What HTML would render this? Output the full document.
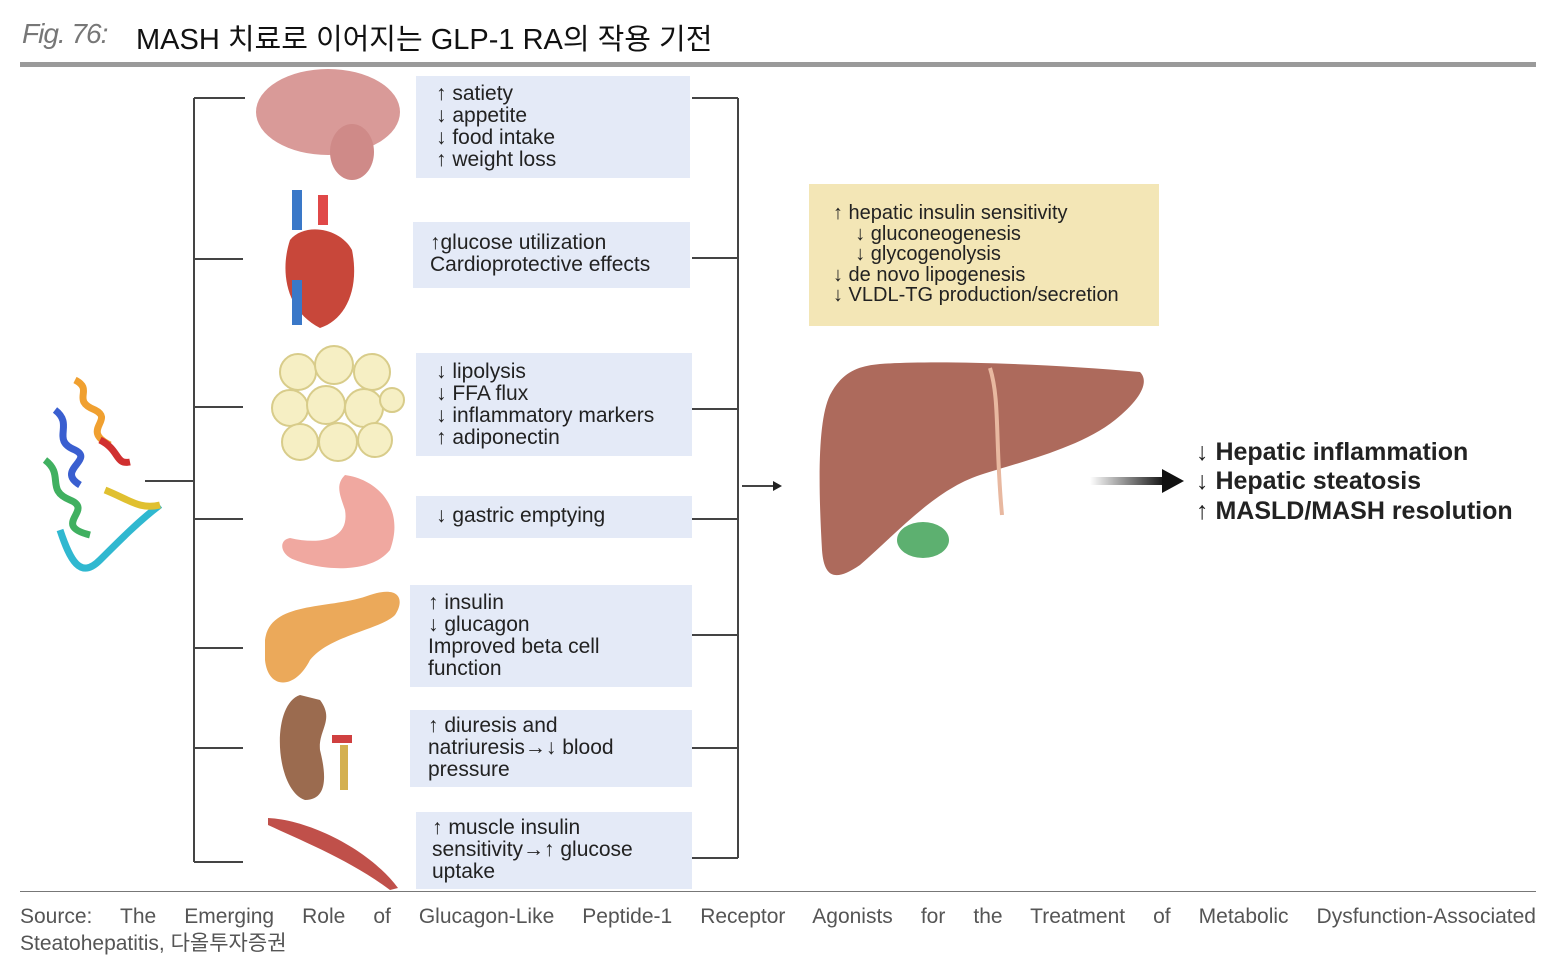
<!DOCTYPE html>
<html><head><meta charset="utf-8"><style>
body{margin:0;width:1556px;height:969px;background:#fff;position:relative;overflow:hidden;font-family:"Liberation Sans","Noto Sans CJK KR",sans-serif}
.a{position:absolute}
.box{position:absolute;background:#e4eaf7;color:#222;font-size:21px;line-height:22px;box-sizing:border-box}
.out{position:absolute;left:1196px;font-weight:bold;font-size:25px;color:#222}
</style></head><body>
<div class="a" style="left:22px;top:18px;font-size:28px;font-style:italic;color:#777;letter-spacing:-1px">Fig. 76:</div>
<div class="a" style="left:136px;top:16px;font-size:29px;color:#111">MASH 치료로 이어지는 GLP-1 RA의 작용 기전</div>
<div class="a" style="left:20px;top:62px;width:1516px;height:5px;background:#9a9a9a"></div>
<div class="a" style="left:20px;top:891px;width:1516px;height:1px;background:#777"></div>
<div class="a" style="left:20px;top:903px;width:1516px;font-size:21px;color:#555;line-height:27px;text-align:justify;text-align-last:justify">Source: The Emerging Role of Glucagon-Like Peptide-1 Receptor Agonists for the Treatment of Metabolic Dysfunction-Associated</div>
<div class="a" style="left:20px;top:930px;font-size:21px;color:#555;line-height:27px">Steatohepatitis, 다올투자증권</div>

<svg class="a" style="left:0;top:0" width="1556" height="969">
<g stroke="#444" stroke-width="2" fill="none">
<path d="M194 98V862M194 98H245M194 259H243M194 407H243M194 519H243M194 648H243M194 748H243M194 862H243M145 481H194"/>
<path d="M738 98V858M692 98H738M692 258H738M692 409H738M692 519H738M692 635H738M692 748H738M692 858H738M742 486H775"/>
</g>
<path d="M773 481L782 486L773 491Z" fill="#222"/>
<defs><linearGradient id="g" x1="0" x2="1"><stop offset="0" stop-color="#fff"/><stop offset="1" stop-color="#111"/></linearGradient></defs>
<rect x="1090" y="477" width="75" height="8" fill="url(#g)"/>
<path d="M1162 469L1184 481L1162 493Z" fill="#111"/>
<!-- liver -->
<ellipse cx="923" cy="540" rx="26" ry="18" fill="#5db070"/>
<path d="M880 364C940 360 1050 364 1140 372C1150 382 1140 400 1115 420C1080 448 1020 462 980 475C935 490 900 530 860 565C835 582 824 578 822 550C818 480 818 420 830 395C842 372 858 366 880 364Z" fill="#ad6a5c"/>
<path d="M990 368C1000 400 995 440 1002 515" stroke="#e8b8a0" stroke-width="4" fill="none"/>
<!-- brain -->
<ellipse cx="328" cy="112" rx="72" ry="43" fill="#d99a98"/>
<ellipse cx="352" cy="152" rx="22" ry="28" fill="#cf8a88"/>
<!-- heart -->
<path d="M290 240C280 270 285 310 320 328C345 320 360 290 352 250C340 228 305 222 290 240Z" fill="#c8473a"/>
<rect x="292" y="190" width="10" height="40" fill="#3a78c8"/><rect x="318" y="195" width="10" height="30" fill="#e04848"/>
<rect x="292" y="280" width="10" height="45" fill="#3a78c8"/>
<!-- fat -->
<g fill="#f6efc4" stroke="#d8cc8a" stroke-width="2">
<circle cx="298" cy="372" r="18"/><circle cx="334" cy="365" r="19"/><circle cx="372" cy="372" r="18"/>
<circle cx="290" cy="408" r="18"/><circle cx="326" cy="405" r="19"/><circle cx="364" cy="408" r="19"/><circle cx="392" cy="400" r="12"/>
<circle cx="300" cy="442" r="18"/><circle cx="338" cy="442" r="19"/><circle cx="375" cy="440" r="17"/>
</g>
<!-- stomach -->
<path d="M345 475C380 480 405 510 390 550C370 575 320 570 295 560C280 555 278 540 290 538C320 545 350 540 345 510C340 495 335 485 345 475Z" fill="#f0a8a0"/>
<!-- pancreas -->
<path d="M265 640C270 600 330 610 370 595C400 585 405 600 395 615C380 630 330 635 310 660C295 690 268 690 265 660Z" fill="#eba95a"/>
<!-- kidney -->
<path d="M300 695C270 705 275 790 305 800C330 800 325 770 320 750C318 730 335 720 320 700Z" fill="#9b6b4f"/>
<rect x="332" y="735" width="20" height="8" fill="#d04040"/><rect x="340" y="745" width="8" height="45" fill="#d4b050"/>
<!-- muscle -->
<path d="M268 818C310 820 370 850 398 888L390 890C350 860 300 840 268 825Z" fill="#c0504a"/>
<!-- protein -->
<g fill="none" stroke-width="7">
<path d="M75 380C95 390 70 400 95 410C115 420 80 430 110 445" stroke="#f0a030"/>
<path d="M55 410C75 425 50 440 75 450C95 460 55 470 80 485" stroke="#3a5fd0"/>
<path d="M45 460C65 475 45 490 70 500C95 510 50 525 90 535" stroke="#40b060"/>
<path d="M60 530C70 560 80 580 100 560C120 540 140 520 160 505" stroke="#30b8d0"/>
<path d="M100 440C120 450 115 465 130 462" stroke="#d03030"/>
<path d="M105 490C130 500 140 510 160 505" stroke="#e0c030"/>
</g>
</svg>

<div class="box" style="left:416px;top:76px;width:274px;height:102px;padding:7px 0 0 20px">↑ satiety<br>↓ appetite<br>↓ food intake<br>↑ weight loss</div>
<div class="box" style="left:413px;top:222px;width:277px;height:66px;padding:10px 0 0 17px">↑glucose utilization<br>Cardioprotective effects</div>
<div class="box" style="left:416px;top:353px;width:276px;height:103px;padding:8px 0 0 20px">↓ lipolysis<br>↓ FFA flux<br>↓ inflammatory markers<br>↑ adiponectin</div>
<div class="box" style="left:416px;top:496px;width:276px;height:42px;padding:9px 0 0 20px">↓ gastric emptying</div>
<div class="box" style="left:410px;top:585px;width:282px;height:102px;padding:7px 0 0 18px">↑ insulin<br>↓ glucagon<br>Improved beta cell<br>function</div>
<div class="box" style="left:410px;top:710px;width:282px;height:77px;padding:5px 0 0 18px">↑ diuresis and<br>natriuresis→↓ blood<br>pressure</div>
<div class="box" style="left:416px;top:812px;width:276px;height:77px;padding:5px 0 0 16px">↑ muscle insulin<br>sensitivity→↑ glucose<br>uptake</div>
<div class="box" style="left:809px;top:184px;width:350px;height:142px;background:#f3e6b6;font-size:20px;line-height:20.5px;padding:19px 0 0 24px">↑ hepatic insulin sensitivity<br>&nbsp;&nbsp;&nbsp;&nbsp;↓ gluconeogenesis<br>&nbsp;&nbsp;&nbsp;&nbsp;↓ glycogenolysis<br>↓ de novo lipogenesis<br>↓ VLDL-TG production/secretion</div>

<div class="out" style="top:438px">↓ Hepatic inflammation</div>
<div class="out" style="top:467px">↓ Hepatic steatosis</div>
<div class="out" style="top:497px">↑ MASLD/MASH resolution</div>
</body></html>
